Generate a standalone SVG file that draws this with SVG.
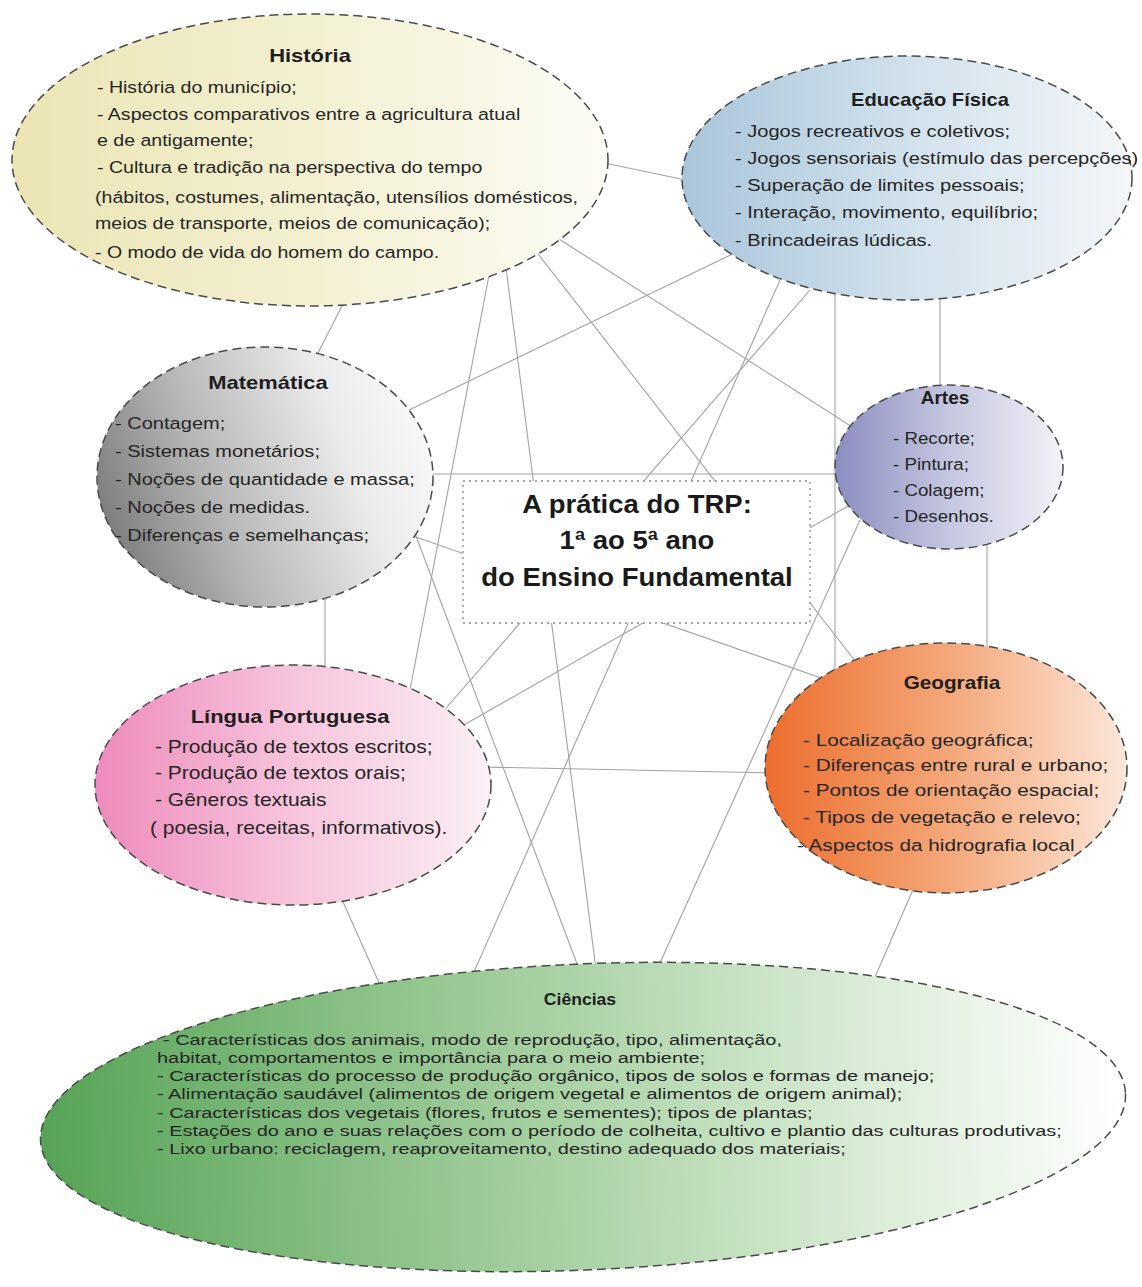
<svg xmlns="http://www.w3.org/2000/svg" width="1142" height="1287" viewBox="0 0 1142 1287">
  <style>
    .node { stroke: #4a4a4a; stroke-width: 1.5; stroke-dasharray: 9 5; }
    .body { font-family: "Liberation Sans", Arial, sans-serif; font-size: 17px; fill: #262626; }
    .title { font-family: "Liberation Sans", Arial, sans-serif; font-size: 18px; font-weight: bold; fill: #1e1e1e; text-anchor: middle; }
    .center { font-family: "Liberation Sans", Arial, sans-serif; font-size: 25px; font-weight: bold; fill: #1a1a1a; text-anchor: middle; }
    .links line { stroke: #a2a2a2; stroke-width: 1.1; }
  </style>
  <defs>
    <linearGradient id="gHist" x1="0" y1="0" x2="1" y2="0">
      <stop offset="0" stop-color="#ebe5b4"/>
      <stop offset="0.5" stop-color="#f3f0d1"/>
      <stop offset="1" stop-color="#fcfcf6"/>
    </linearGradient>
    <linearGradient id="gEdf" x1="0" y1="0" x2="1" y2="0">
      <stop offset="0" stop-color="#a9c5db"/>
      <stop offset="0.5" stop-color="#d1e1ec"/>
      <stop offset="1" stop-color="#f4f6f8"/>
    </linearGradient>
    <linearGradient id="gMat" x1="0" y1="0.65" x2="1" y2="0.35">
      <stop offset="0" stop-color="#7b7b7b"/>
      <stop offset="0.35" stop-color="#b7b7b7"/>
      <stop offset="0.75" stop-color="#ebebeb"/>
      <stop offset="1" stop-color="#f8f8f8"/>
    </linearGradient>
    <linearGradient id="gArt" x1="0" y1="0" x2="1" y2="0">
      <stop offset="0" stop-color="#8b8dbf"/>
      <stop offset="0.5" stop-color="#c5c6e0"/>
      <stop offset="1" stop-color="#f2f2f8"/>
    </linearGradient>
    <linearGradient id="gLp" x1="0" y1="0" x2="1" y2="0">
      <stop offset="0" stop-color="#ee8bbc"/>
      <stop offset="0.5" stop-color="#f6c4dc"/>
      <stop offset="1" stop-color="#fbeff5"/>
    </linearGradient>
    <linearGradient id="gGeo" x1="0" y1="0" x2="1" y2="0">
      <stop offset="0" stop-color="#ec6d2c"/>
      <stop offset="0.5" stop-color="#f4a678"/>
      <stop offset="1" stop-color="#fce7d9"/>
    </linearGradient>
    <linearGradient id="gCie" x1="0" y1="0" x2="1" y2="0">
      <stop offset="0" stop-color="#56a356"/>
      <stop offset="0.45" stop-color="#a4cf9f"/>
      <stop offset="0.75" stop-color="#d8ebd5"/>
      <stop offset="1" stop-color="#ffffff"/>
    </linearGradient>
  </defs>

  <rect width="1142" height="1287" fill="#ffffff"/>

  <!-- connectors: every subject is linked to every other one -->
  <g id="connectors" class="links">
    <line x1="350" y1="290" x2="312" y2="365"/>
    <line x1="590" y1="160" x2="700" y2="183"/>
    <line x1="490" y1="270" x2="410" y2="690"/>
    <line x1="505" y1="260" x2="598" y2="985"/>
    <line x1="535" y1="250" x2="870" y2="680"/>
    <line x1="545" y1="230" x2="860" y2="432"/>
    <line x1="745" y1="248" x2="405" y2="412"/>
    <line x1="780" y1="280" x2="466" y2="990"/>
    <line x1="810" y1="290" x2="440" y2="715"/>
    <line x1="835" y1="280" x2="835" y2="700"/>
    <line x1="940" y1="280" x2="940" y2="400"/>
    <line x1="420" y1="474" x2="850" y2="474"/>
    <line x1="410" y1="535" x2="870" y2="695"/>
    <line x1="410" y1="520" x2="585" y2="985"/>
    <line x1="325" y1="595" x2="325" y2="680"/>
    <line x1="987" y1="535" x2="987" y2="660"/>
    <line x1="860" y1="520" x2="650" y2="985"/>
    <line x1="850" y1="505" x2="455" y2="730"/>
    <line x1="480" y1="767" x2="780" y2="773"/>
    <line x1="340" y1="895" x2="380" y2="985"/>
    <line x1="915" y1="885" x2="865" y2="1000"/>
  </g>

  <!-- central theme -->
  <g id="tema">
    <rect x="463" y="481" width="347" height="142" fill="#ffffff" stroke="#8a8a8a" stroke-width="1.3" stroke-dasharray="2 4"/>
    <text class="center" transform="translate(637 513) scale(1.1 1)">A prática do TRP:</text>
    <text class="center" transform="translate(637 549) scale(1.1 1)">1ª ao 5ª ano</text>
    <text class="center" transform="translate(637 586) scale(1.1 1)">do Ensino Fundamental</text>
  </g>

  <g id="historia">
    <ellipse class="node" cx="310" cy="160" rx="298" ry="146" fill="url(#gHist)"/>
    <text class="title" transform="translate(310 62) scale(1.22 1)">História</text>
    <g class="body" transform="translate(97 0) scale(1.15 1)">
      <text x="0" y="93">- História do município;</text>
      <text x="0" y="120">- Aspectos comparativos entre a agricultura atual</text>
      <text x="0" y="146">e de antigamente;</text>
      <text x="0" y="173">- Cultura e tradição na perspectiva do tempo</text>
      <text x="-1.7" y="203">(hábitos, costumes, alimentação, utensílios domésticos,</text>
      <text x="-1.7" y="229">meios de transporte, meios de comunicação);</text>
      <text x="-1.7" y="258">- O modo de vida do homem do campo.</text>
    </g>
  </g>

  <g id="educacao-fisica">
    <ellipse class="node" cx="907" cy="178" rx="225" ry="122" fill="url(#gEdf)"/>
    <text class="title" transform="translate(930 106) scale(1.12 1)">Educação Física</text>
    <g class="body" transform="translate(735 0) scale(1.18 1)">
      <text x="0" y="137">- Jogos recreativos e coletivos;</text>
      <text x="0" y="164">- Jogos sensoriais (estímulo das percepções)</text>
      <text x="0" y="191">- Superação de limites pessoais;</text>
      <text x="0" y="218">- Interação, movimento, equilíbrio;</text>
      <text x="0" y="246">- Brincadeiras lúdicas.</text>
    </g>
  </g>

  <g id="matematica">
    <ellipse class="node" cx="265" cy="477" rx="168" ry="130" fill="url(#gMat)"/>
    <text class="title" transform="translate(268 389) scale(1.22 1)">Matemática</text>
    <g class="body" transform="translate(115 0) scale(1.18 1)">
      <text x="0" y="429">- Contagem;</text>
      <text x="0" y="457">- Sistemas monetários;</text>
      <text x="0" y="485">- Noções de quantidade e massa;</text>
      <text x="0" y="513">- Noções de medidas.</text>
      <text x="0" y="541">- Diferenças e semelhanças;</text>
    </g>
  </g>

  <g id="artes">
    <ellipse class="node" cx="949" cy="467" rx="114" ry="82" fill="url(#gArt)"/>
    <text class="title" transform="translate(945 404) scale(1.05 1)">Artes</text>
    <g class="body" transform="translate(893 0) scale(1.1 1)">
      <text x="0" y="444">- Recorte;</text>
      <text x="0" y="470">- Pintura;</text>
      <text x="0" y="496">- Colagem;</text>
      <text x="0" y="522">- Desenhos.</text>
    </g>
  </g>

  <g id="lingua-portuguesa">
    <ellipse class="node" cx="293" cy="785" rx="198" ry="120" fill="url(#gLp)"/>
    <text class="title" transform="translate(290 723) scale(1.22 1)">Língua Portuguesa</text>
    <g class="body" transform="translate(155 0) scale(1.2 1)" style="font-size:17.5px">
      <text x="0" y="753">- Produção de textos escritos;</text>
      <text x="0" y="779">- Produção de textos orais;</text>
      <text x="0" y="806">- Gêneros textuais</text>
      <text x="-4.2" y="834">( poesia, receitas, informativos).</text>
    </g>
  </g>

  <g id="geografia">
    <ellipse class="node" cx="946" cy="768" rx="181" ry="125" fill="url(#gGeo)"/>
    <text class="title" transform="translate(952 689) scale(1.15 1)">Geografia</text>
    <g class="body" transform="translate(803 0) scale(1.22 1)">
      <text x="0" y="746">- Localização geográfica;</text>
      <text x="0" y="771">- Diferenças entre rural e urbano;</text>
      <text x="0" y="796">- Pontos de orientação espacial;</text>
      <text x="0" y="823">- Tipos de vegetação e relevo;</text>
      <text x="-5" y="851">- Aspectos da hidrografia local</text>
    </g>
  </g>

  <g id="ciencias">
    <ellipse class="node" cx="583" cy="1117" rx="543" ry="153" fill="url(#gCie)" transform="rotate(-2.5 583 1117)"/>
    <text class="title" transform="translate(580 1005) scale(1.1 1)" style="font-size:16px">Ciências</text>
    <g class="body" transform="translate(157 0) scale(1.33 1)" style="font-size:15px">
      <text x="4.5" y="1045">- Características dos animais, modo de reprodução, tipo, alimentação,</text>
      <text x="0" y="1063">habitat, comportamentos e importância para o meio ambiente;</text>
      <text x="0" y="1081">- Características do processo de produção orgânico, tipos de solos e formas de manejo;</text>
      <text x="0" y="1099">- Alimentação saudável (alimentos de origem vegetal e alimentos de origem animal);</text>
      <text x="0" y="1118">- Características dos vegetais (flores, frutos e sementes); tipos de plantas;</text>
      <text x="0" y="1136">- Estações do ano e suas relações com o período de colheita, cultivo e plantio das culturas produtivas;</text>
      <text x="0" y="1154">- Lixo urbano: reciclagem, reaproveitamento, destino adequado dos materiais;</text>
    </g>
  </g>
</svg>
